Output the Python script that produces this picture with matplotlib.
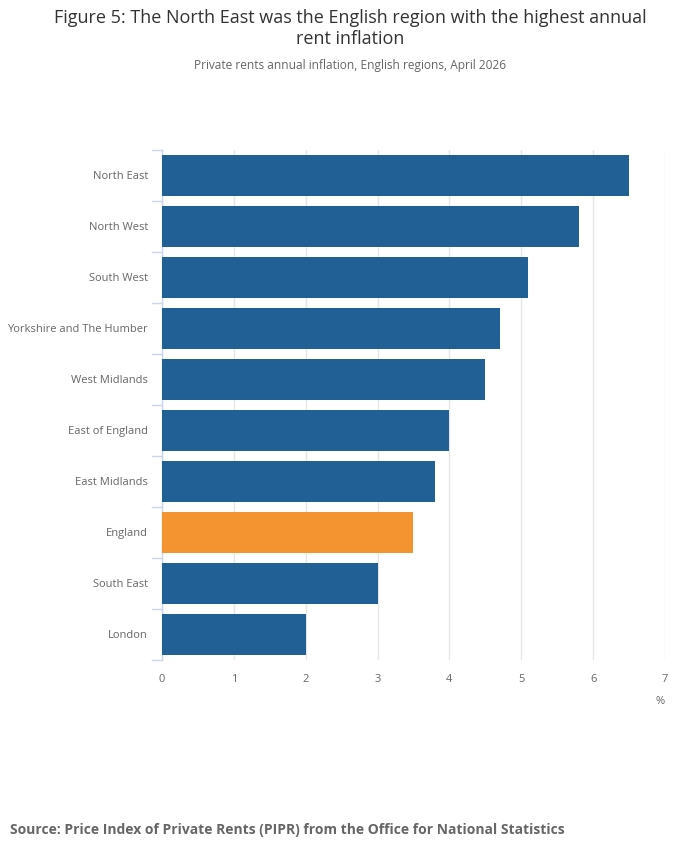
import matplotlib.pyplot as plt
from matplotlib.lines import Line2D

plt.rcParams['font.family'] = ['Open Sans', 'DejaVu Sans']

# data
regions = ['North East', 'North West', 'South West', 'Yorkshire and The Humber',
           'West Midlands', 'East of England', 'East Midlands', 'England',
           'South East', 'London']
inflation = [6.5, 5.8, 5.1, 4.7, 4.5, 4.0, 3.8, 3.5, 3.0, 2.0]
highlight = 'England'

blue = '#206095'
orange = '#F39431'
colours = [orange if r == highlight else blue for r in regions]

fig = plt.figure(figsize=(7, 8.57), dpi=100)
ax = fig.add_axes([0.2314, 0.2299, 0.7186, 0.5951])

ypos = list(range(len(regions)))
ax.barh(ypos, inflation, height=0.8, color=colours, zorder=3)
ax.set_ylim(len(regions) - 0.5, -0.5)
ax.set_xlim(0, 7)

ax.set_xticks(range(0, 8))
ax.xaxis.grid(True, color='#e6e6e6', linewidth=1, zorder=0)
ax.tick_params(axis='x', length=0, labelsize=8, labelcolor='#666666', pad=10)

ax.set_yticks(ypos)
ax.set_yticklabels(regions)
ax.tick_params(axis='y', length=0, labelsize=8, labelcolor='#666666', pad=10)
for lbl in ax.get_yticklabels():
    lbl.set_va('center_baseline')

# category boundary ticks on the y axis
for b in [i - 0.5 for i in range(len(regions) + 1)]:
    ax.add_line(Line2D([-0.14, 0], [b, b], color='#ccd6eb', linewidth=1,
                       clip_on=False))

for s in ['top', 'right', 'bottom']:
    ax.spines[s].set_visible(False)
ax.spines['left'].set_color('#ccd6eb')
ax.spines['left'].set_linewidth(1)

ax.text(1.0, -0.07, '%', transform=ax.transAxes, ha='right', va='top',
        fontsize=8, color='#666666')

fig.text(0.5, 0.990, 'Figure 5: The North East was the English region with the highest annual\nrent inflation',
         ha='center', va='top', fontsize=13, color='#333333', linespacing=1.25)
fig.text(0.5, 0.931, 'Private rents annual inflation, English regions, April 2026',
         ha='center', va='top', fontsize=8.6, color='#666666')
fig.text(0.014, 0.032, 'Source: Price Index of Private Rents (PIPR) from the Office for National Statistics',
         ha='left', va='center', fontsize=10, color='#666666', fontweight='bold')

fig.savefig('out.png', dpi=100)
